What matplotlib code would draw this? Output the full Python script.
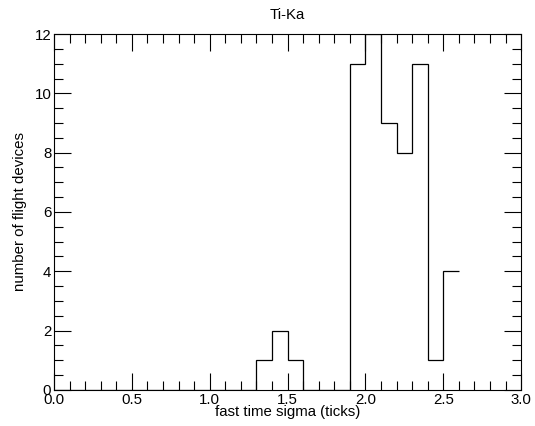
import numpy as np
import matplotlib
matplotlib.use("Agg")
import matplotlib.pyplot as plt

plt.rcParams["font.family"] = ["Liberation Sans", "DejaVu Sans"]

# histogram of fast time sigma, 0.1-tick bins from 0.0 to 2.6
EDGES = np.round(np.arange(0.0, 2.61, 0.1), 2)
COUNTS = [0, 0, 0, 0, 0, 0, 0, 0, 0, 0,
          0, 0, 0, 1, 2, 1, 0, 0, 0, 11,
          12, 9, 8, 11, 1, 4]

fig = plt.figure(figsize=(5.35, 4.26), dpi=100)
ax = fig.add_axes([0.101, 0.085, 0.873, 0.835])
ax.stairs(COUNTS, EDGES, baseline=None, color="black", lw=0.9)

ax.set_xlim(0, 3)
ax.set_ylim(0, 12)
ax.set_xticks(np.arange(0, 3.01, 0.5))
ax.set_xticks(np.arange(0, 3.01, 0.1), minor=True)
ax.set_yticks(np.arange(0, 12.1, 2))
ax.set_yticks(np.arange(0, 12.1, 0.5), minor=True)
ax.set_xticklabels([f"{v:.1f}" for v in np.arange(0, 3.01, 0.5)])
ax.tick_params(which="both", direction="in", top=True, right=True,
               width=0.8, labelsize=10.8)
ax.tick_params(which="major", length=12, pad=2)
ax.tick_params(which="minor", length=6.5)
for s in ax.spines.values():
    s.set_linewidth(0.8)

ax.set_title("Ti-Ka", fontsize=10.8, pad=11)
ax.set_xlabel("fast time sigma (ticks)", fontsize=10.8, labelpad=-1)
ax.set_ylabel("number of flight devices", fontsize=10.8, labelpad=5)

fig.savefig("out.png", dpi=100)
